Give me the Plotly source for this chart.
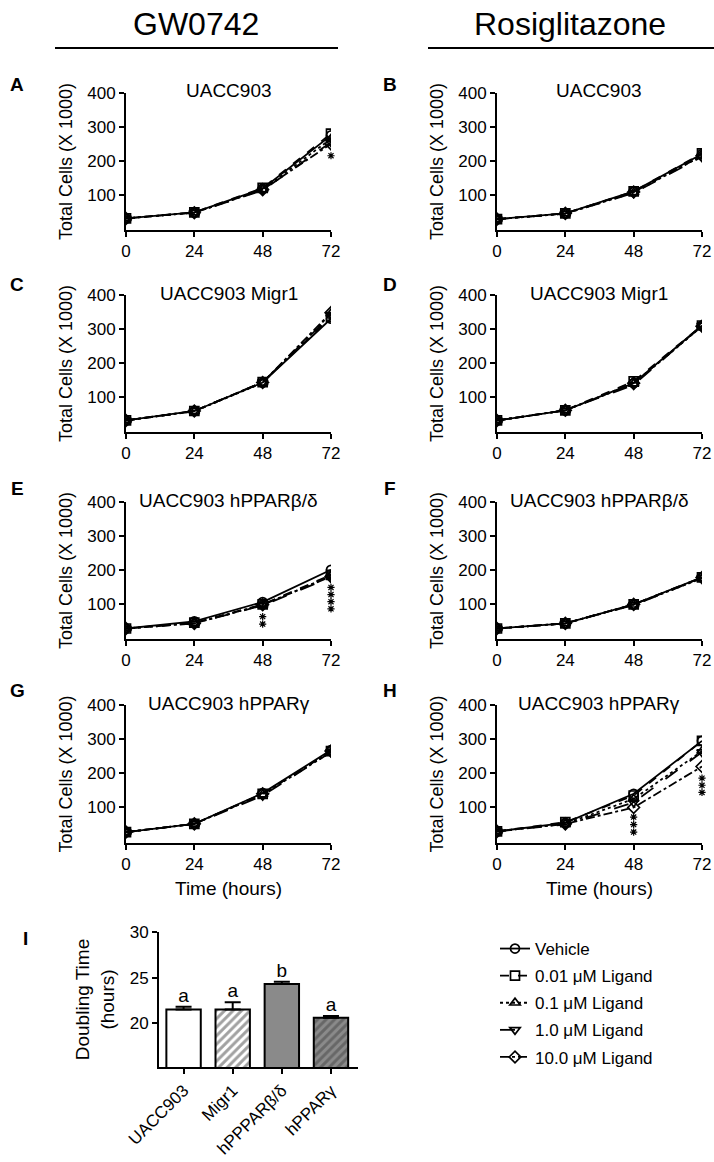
import plotly.graph_objects as go

W, H = 714, 1162
FONT = "Liberation Sans, Arial, sans-serif"

time_h = [0, 24, 48, 72]
series_names = ["Vehicle", "0.01 \u03bcM Ligand", "0.1 \u03bcM Ligand", "1.0 \u03bcM Ligand", "10.0 \u03bcM Ligand"]

# GW0742 panels (left column)
gw_uacc903 = [[30, 48, 118, 275], [30, 48, 120, 280], [30, 47, 115, 265], [30, 47, 113, 255], [30, 47, 115, 250]]
gw_migr1 = [[30, 58, 142, 330], [30, 58, 143, 335], [30, 57, 141, 345], [30, 58, 143, 340], [30, 58, 142, 348]]
gw_bd = [[27, 48, 105, 200], [27, 44, 98, 185], [27, 43, 96, 182], [27, 42, 95, 178], [27, 42, 97, 180]]
gw_gamma = [[28, 52, 142, 268], [28, 52, 140, 265], [28, 52, 138, 262], [28, 51, 135, 262], [28, 52, 140, 265]]
# Rosiglitazone panels (right column)
rosi_uacc903 = [[28, 45, 110, 220], [28, 45, 110, 222], [28, 44, 106, 215], [28, 44, 105, 212], [28, 45, 108, 215]]
rosi_migr1 = [[30, 60, 140, 310], [30, 60, 145, 310], [30, 60, 138, 308], [30, 60, 135, 310], [30, 60, 140, 308]]
rosi_bd = [[27, 42, 98, 178], [27, 42, 98, 178], [27, 42, 97, 175], [27, 42, 96, 176], [27, 42, 98, 177]]
rosi_gamma = [[30, 55, 140, 295], [30, 57, 135, 295], [30, 52, 125, 265], [30, 50, 115, 262], [30, 52, 100, 220]]

# significance asterisks (x, y)
stars_A_x = [72]; stars_A_y = [215]
stars_E_x = [48, 48, 72, 72, 72, 72]; stars_E_y = [62, 40, 148, 127, 106, 85]
stars_H_x = [48, 48, 48, 72, 72, 72]; stars_H_y = [72, 50, 28, 186, 165, 144]

panel_titles = ["UACC903", "UACC903 Migr1", "UACC903 hPPAR\u03b2/\u03b4", "UACC903 hPPAR\u03b3"]

# Doubling time bar chart
dt_cats = ["UACC903", "Migr1", "hPPPAR\u03b2/\u03b4", "hPPAR\u03b3"]
dt_vals = [21.5, 21.5, 24.3, 20.6]
dt_err = [0.3, 0.8, 0.25, 0.2]
dt_letters = ["a", "a", "b", "a"]

symbols = ["circle-open", "square-open", "triangle-up-open", "triangle-down-open", "diamond-open"]
dashes = ["solid", "dash", "dot", "longdash", "dashdot"]

fig = go.Figure()

def px_x(a, b):
    return [a / W, b / W]

def px_y(top, bottom):
    return [1 - bottom / H, 1 - top / H]

col_x = [px_x(126, 331), px_x(497, 702)]
row_y = [(93, 230), (295, 432), (502, 639), (705, 843)]
letters = [["A", "B"], ["C", "D"], ["E", "F"], ["G", "H"]]
letter_y = [84, 284, 488, 690]

data_grid = [[gw_uacc903, rosi_uacc903], [gw_migr1, rosi_migr1], [gw_bd, rosi_bd], [gw_gamma, rosi_gamma]]
stars_grid = {(0, 0): (stars_A_x, stars_A_y), (2, 0): (stars_E_x, stars_E_y), (3, 1): (stars_H_x, stars_H_y)}

axis_common = dict(showline=True, linecolor="black", linewidth=2, ticks="outside",
                   tickcolor="black", tickwidth=1.8, ticklen=5, showgrid=False, zeroline=False,
                   automargin=False,
                   tickfont=dict(family=FONT, size=17, color="black"))

annotations = []
idx = 0
for r in range(4):
    for c in range(2):
        idx += 1
        xa = "x" if idx == 1 else f"x{idx}"
        ya = "y" if idx == 1 else f"y{idx}"
        xkey = "xaxis" if idx == 1 else f"xaxis{idx}"
        ykey = "yaxis" if idx == 1 else f"yaxis{idx}"
        top, bottom = row_y[r]
        fig.update_layout(**{
            xkey: dict(domain=col_x[c], anchor=ya, range=[0, 72], tickvals=time_h,
                       title=dict(text="Time (hours)" if r == 3 else "", font=dict(family=FONT, size=19, color="black"), standoff=8),
                       **axis_common),
            ykey: dict(domain=px_y(top, bottom), anchor=xa, range=[-4, 400], tickvals=[100, 200, 300, 400],
                       title=dict(text="Total Cells (X 1000)", font=dict(family=FONT, size=18, color="black"), standoff=10),
                       **axis_common),
        })
        series = data_grid[r][c]
        for s in range(5):
            fig.add_trace(go.Scatter(
                x=time_h, y=series[s], xaxis=xa, yaxis=ya, mode="lines+markers",
                name=series_names[s], legendgroup=series_names[s], showlegend=(idx == 1),
                line=dict(color="black", width=1.8, dash=dashes[s]),
                marker=dict(symbol=symbols[s], size=9, color="black", line=dict(color="black", width=1.7)),
            ))
        if (r, c) in stars_grid:
            sx, sy = stars_grid[(r, c)]
            fig.add_trace(go.Scatter(x=sx, y=sy, xaxis=xa, yaxis=ya, mode="markers", showlegend=False,
                                     marker=dict(symbol="asterisk-open", size=6, color="black",
                                                 line=dict(color="black", width=1.2)),
                                     cliponaxis=False))
        # subplot title
        xc = (col_x[c][0] + col_x[c][1]) / 2
        annotations.append(dict(text=panel_titles[r], x=xc, y=1 - (top - 2) / H, xref="paper", yref="paper",
                                xanchor="center", yanchor="middle", showarrow=False,
                                font=dict(family=FONT, size=19, color="black")))
        # panel letter
        annotations.append(dict(text="<b>" + letters[r][c] + "</b>", x=(17 if c == 0 else 390) / W,
                                y=1 - letter_y[r] / H, xref="paper", yref="paper", xanchor="center",
                                yanchor="middle", showarrow=False, font=dict(family=FONT, size=19, color="black")))

# Bar chart panel I
idx += 1
xa, ya = f"x{idx}", f"y{idx}"
bar_colors = ["white", "white", "#8a8a8a", "#8a8a8a"]
bar_patterns = ["", "/", "", "/"]
fig.add_trace(go.Bar(
    x=dt_cats, y=dt_vals, xaxis=xa, yaxis=ya, width=0.7, showlegend=False,
    marker=dict(color=bar_colors, line=dict(color="black", width=2),
                pattern=dict(shape=bar_patterns, fgcolor="black", size=6, solidity=0.5)),
    error_y=dict(type="data", array=dt_err, arrayminus=[0] * 4, symmetric=False, color="black", thickness=2, width=8),
))
fig.add_trace(go.Scatter(
    x=dt_cats, y=[v + e for v, e in zip(dt_vals, dt_err)], xaxis=xa, yaxis=ya, mode="text",
    text=dt_letters, textposition="top center", showlegend=False, cliponaxis=False,
    textfont=dict(family=FONT, size=19, color="black"),
))
fig.update_layout(**{
    f"xaxis{idx}": dict(domain=px_x(159, 358), anchor=ya, range=[-0.5, 3.55], tickangle=-45,
                        **axis_common),
    f"yaxis{idx}": dict(domain=px_y(932, 1067), anchor=xa, range=[15.2, 30], tickvals=[20, 25, 30],
                        title=dict(text="Doubling Time<br>(hours)", font=dict(family=FONT, size=19, color="black"), standoff=10),
                        **axis_common),
})
annotations.append(dict(text="<b>I</b>", x=25 / W, y=1 - 938 / H, xref="paper", yref="paper",
                        xanchor="center", yanchor="middle", showarrow=False,
                        font=dict(family=FONT, size=19, color="black")))

# column headers
annotations.append(dict(text="GW0742", x=196 / W, y=1 - 24 / H, xref="paper", yref="paper", xanchor="center",
                        yanchor="middle", showarrow=False, font=dict(family=FONT, size=32, color="black")))
annotations.append(dict(text="Rosiglitazone", x=570 / W, y=1 - 24 / H, xref="paper", yref="paper", xanchor="center",
                        yanchor="middle", showarrow=False, font=dict(family=FONT, size=32, color="black")))
shapes = [
    dict(type="line", xref="paper", yref="paper", x0=55 / W, x1=338 / W, y0=1 - 48 / H, y1=1 - 48 / H,
         line=dict(color="black", width=2)),
    dict(type="line", xref="paper", yref="paper", x0=428 / W, x1=714 / W, y0=1 - 48 / H, y1=1 - 48 / H,
         line=dict(color="black", width=2)),
]

fig.update_layout(
    width=W, height=H, margin=dict(l=0, r=0, t=0, b=0, autoexpand=False),
    paper_bgcolor="white", plot_bgcolor="white",
    annotations=annotations, shapes=shapes,
    font=dict(family=FONT, color="black"),
    legend=dict(x=495 / W, y=1 - 931 / H, xanchor="left", yanchor="top", tracegroupgap=2,
                font=dict(family=FONT, size=17, color="black"), bgcolor="rgba(0,0,0,0)", itemwidth=30),
)

fig.write_html("out.html", config={"displayModeBar": False},
               post_script="document.body.style.margin='0px';document.body.style.padding='0px';")
